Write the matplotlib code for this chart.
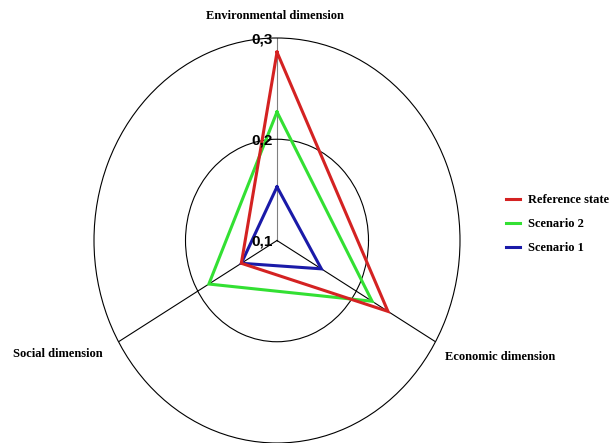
import matplotlib
matplotlib.use("Agg")
import matplotlib.pyplot as plt
import numpy as np
from matplotlib.transforms import offset_copy

plt.rcParams['font.family'] = ['Liberation Serif', 'DejaVu Serif']

# dimensions, clockwise from the top
dimensions = ['Environmental dimension', 'Economic dimension', 'Social dimension']
angles_deg = [90, 330, 210]

# values
reference_state = [0.286, 0.240, 0.145]
scenario_2 = [0.227, 0.220, 0.186]
scenario_1 = [0.153, 0.156, 0.145]

series_names = ['Scenario 1', 'Scenario 2', 'Reference state']
series_values = [scenario_1, scenario_2, reference_state]
series_colors = ['#1a1aa8', '#33e033', '#d42222']

r_ticks = [0.1, 0.2, 0.3]
r_tick_labels = ['0,1', '0,2', '0,3']

fig = plt.figure(figsize=(6.15, 4.43), dpi=100)
ax = fig.add_axes([94 / 615, 0.0, 366 / 615, 405 / 443], projection='polar')
ax.set_aspect('auto')

theta = np.deg2rad(angles_deg)
theta_closed = np.append(theta, theta[0])

handles = {}
for name, vals, col in zip(series_names, series_values, series_colors):
    line, = ax.plot(theta_closed, np.append(vals, vals[0]), color=col,
                    linewidth=2.2, solid_joinstyle='miter', zorder=3)
    handles[name] = line

# grid: axis lines, middle ring and outer ring
ax.set_thetagrids(angles_deg, labels=[''] * 3)
ax.set_rgrids([r_ticks[1]], labels=[''])
ax.set_thetalim(0, 2 * np.pi)
ax.set_ylim(r_ticks[0], r_ticks[-1])
ax.grid(True, color='black', linewidth=0.8)
ax.xaxis.get_gridlines()[0].set_color('#808080')
ax.spines['polar'].set_color('black')
ax.spines['polar'].set_linewidth(0.8)
ax.spines['polar'].set_capstyle('butt')
for s in ['start', 'end', 'inner']:
    ax.spines[s].set_visible(False)
ax.tick_params(length=0, width=0)

# radial labels next to the vertical axis
trans = offset_copy(ax.transData, fig=fig, x=-3, y=-1, units='points')
for r, lab in zip(r_ticks, r_tick_labels):
    ax.text(np.pi / 2, r, lab, transform=trans, ha='right', va='center',
            fontsize=11, fontweight='bold', family=['Liberation Sans'])

# dimension labels
fig.text(275 / 615, 1 - 16 / 443, dimensions[0], ha='center', va='center',
         fontsize=9, fontweight='bold')
fig.text(445 / 615, 1 - 357 / 443, dimensions[1], ha='left', va='center',
         fontsize=9, fontweight='bold')
fig.text(13 / 615, 1 - 354 / 443, dimensions[2], ha='left', va='center',
         fontsize=9, fontweight='bold')

leg_order = ['Reference state', 'Scenario 2', 'Scenario 1']
fig.legend([handles[n] for n in leg_order], leg_order, loc='upper left',
           bbox_to_anchor=(495 / 615, 1 - 183 / 443), frameon=False,
           prop={'size': 9, 'weight': 'bold'}, handlelength=1.1,
           handletextpad=0.6, labelspacing=0.95)

fig.savefig('out.png', dpi=100)
